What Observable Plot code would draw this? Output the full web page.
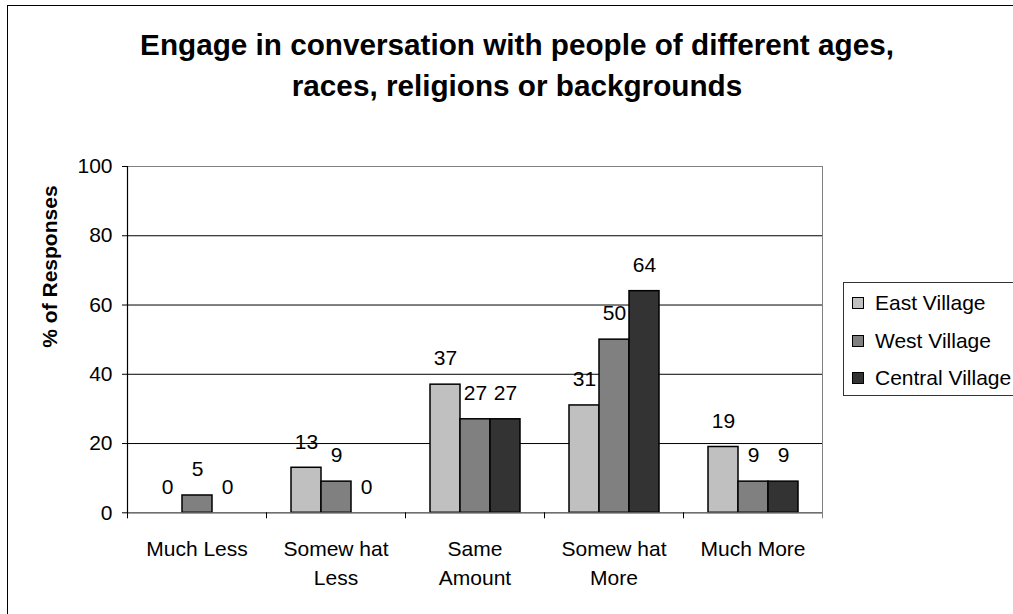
<!DOCTYPE html>
<html>
<head>
<meta charset="utf-8">
<script src="https://cdn.jsdelivr.net/npm/d3@7"></script>
<script src="https://cdn.jsdelivr.net/npm/@observablehq/plot@0.6"></script>
<style>
  html, body { margin: 0; padding: 0; background: #fff; overflow: hidden; }
  #chart { position: relative; width: 1013px; height: 614px; overflow: hidden;
           font-family: "Liberation Sans", Arial, sans-serif; color: #000; background: #fff; }
  #border { position: absolute; left: 7px; top: 5px; width: 1100px; height: 700px; z-index: 3;
            border: 1px solid #000; box-sizing: border-box; pointer-events: none; }
  #title { position: absolute; left: 0; top: 24px; width: 1034px; text-align: center;
           font-weight: bold; font-size: 29.7px; line-height: 41px; }
  #plot { position: absolute; left: 0; top: 120px; }
  #legend { position: absolute; left: 843px; top: 282px; width: 190px; height: 114px;
            border: 1px solid #333; box-sizing: border-box; background: #fff; }
  #legend .item { position: absolute; left: 8px; height: 24px; display: flex; align-items: center;
                  font-size: 21px; white-space: nowrap; }
  #legend .swatch { width: 10px; height: 10px; border: 1px solid #000; margin-right: 11px; }
</style>
</head>
<body>
<div id="chart">
  <div id="title">Engage in conversation with people of different ages,<br>races, religions or backgrounds</div>
  <div id="plot"></div>
  <div id="legend"></div>
  <div id="border"></div>
</div>
<script>
// Response categories (x groups) and villages (series)
const categories = ["Much Less", "Somew hat\nLess", "Same\nAmount", "Somew hat\nMore", "Much More"];
const villages = ["East Village", "West Village", "Central Village"];

// % of responses per category, one array per village
const eastVillage = [0, 13, 37, 31, 19];
const westVillage = [5, 9, 27, 50, 9];
const centralVillage = [0, 0, 27, 64, 9];

const villageColors = ["#c0c0c0", "#808080", "#333333"];
const yTicks = [0, 20, 40, 60, 80, 100];
const gridValues = [20, 40, 60, 80];
const yLabel = "% of Responses";

const seriesValues = [eastVillage, westVillage, centralVillage];
const rows = categories.flatMap((category, i) =>
  villages.map((village, j) => ({category, village, value: seriesValues[j][i]}))
);

const width = 1013, height = 494;
const marginTop = 46, marginBottom = 101.7, marginLeft = 127, marginRight = 191;
const plotHeight = height - marginTop - marginBottom;

const chart = Plot.plot({
  width, height, marginTop, marginBottom, marginLeft, marginRight,
  style: {fontFamily: '"Liberation Sans", Arial, sans-serif', fontSize: "21px", color: "#000", background: "transparent"},
  fx: {domain: categories, padding: 0, label: null},
  x: {domain: villages, paddingInner: 0, paddingOuter: 0.76, axis: null},
  y: {domain: [0, 100], label: null},
  color: {domain: villages, range: villageColors},
  marks: [
    Plot.ruleY(gridValues, {stroke: "#000", strokeWidth: 1}),
    Plot.barY(rows, {fx: "category", x: "village", y: "value", fill: "village", stroke: "#000", strokeWidth: 1.5}),
    Plot.text(rows, {fx: "category", x: "village", y: "value", text: d => String(d.value), dy: -26, fontSize: 21}),
    Plot.ruleY([0], {stroke: "#000", strokeWidth: 1}),
    // plot-area border, then the dark value axis line on its left
    Plot.frame({facet: "super", stroke: "#808080"}),
    Plot.frame({facet: "super", anchor: "right", stroke: "#808080", insetBottom: -5}),
    Plot.frame({facet: "super", anchor: "left", stroke: "#000", strokeWidth: 1.2}),
    // category separator ticks under the baseline
    Plot.frame({anchor: "left", stroke: "#000", insetTop: plotHeight, insetBottom: -5}),
    Plot.axisY({ticks: yTicks, tickSize: 5, tickPadding: 10, label: null, stroke: "#000"}),
    Plot.axisFx({anchor: "bottom", tickSize: 0, tickPadding: 23, lineHeight: 1.38, label: null}),
    Plot.text([yLabel], {facet: "super", frameAnchor: "left", rotate: -90, dx: -77, dy: 8,
                         fontWeight: "bold", fontSize: 21})
  ]
});
document.getElementById("plot").appendChild(chart);

// Legend built from the same color scale
const colorScale = chart.scale("color");
const legend = document.getElementById("legend");
villages.forEach((v, i) => {
  const item = document.createElement("div");
  item.className = "item";
  item.style.top = (8 + i * 37.5) + "px";
  const sw = document.createElement("div");
  sw.className = "swatch";
  sw.style.background = colorScale.apply(v);
  item.appendChild(sw);
  item.appendChild(document.createTextNode(v));
  legend.appendChild(item);
});
</script>
</body>
</html>
